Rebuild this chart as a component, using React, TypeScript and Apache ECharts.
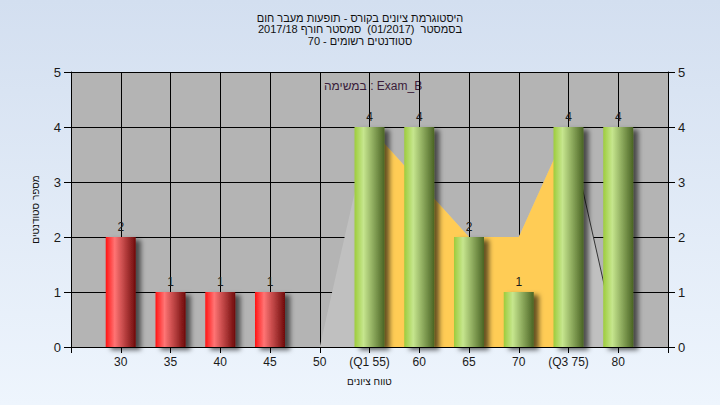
import React, { useEffect, useRef } from "react";
import * as echarts from "echarts";

const titleLines = [
  "היסטוגרמת ציונים בקורס - תופעות מעבר חום",
  "בסמסטר  (01/2017)  סמסטר חורף 2017/18",
  "סטודנטים רשומים - 70",
];
const yAxisName = "מספר סטודנטים";
const xAxisName = "טווח ציונים";
const noteText = "במשימה : Exam_B";

// grade ticks and their labels
const tickGrades = [30, 35, 40, 45, 50, 55, 60, 65, 70, 75, 80];
const tickLabels = ["30", "35", "40", "45", "50", "(Q1 55)", "60", "65", "70", "(Q3 75)", "80"];

// failing grades (red)
const failGrades = [30, 35, 40, 45];
const failCounts = [2, 1, 1, 1];

// passing grades (green)
const passGrades = [55, 60, 65, 70, 75, 80];
const passCounts = [4, 4, 2, 1, 4, 4];

// background distribution shape
const shapeGrades = [50, 55, 60, 65, 70, 75, 80];
const shapeValues = [0, 4, 3, 2, 2, 4, 0];
// inter-quartile part (yellow)
const iqrGrades = [55, 60, 65, 70, 75];
const iqrValues = [4, 3, 2, 2, 4];
// falling edge line
const edgeGrades = [75, 80];
const edgeValues = [4, 0];

const FONT = "Liberation Sans";

function pairs(xs: number[], ys: number[]) {
  return xs.map((x, i) => [x, ys[i]]);
}

export default function App() {
  const ref = useRef<HTMLDivElement>(null);
  useEffect(() => {
    if (!ref.current) return;
    const chart = echarts.init(ref.current, undefined, { renderer: "svg" });
    const barGrad = (c0: string, c1: string, c2: string) =>
      new echarts.graphic.LinearGradient(0, 0, 1, 0, [
        { offset: 0, color: c0 },
        { offset: 0.3, color: c1 },
        { offset: 1, color: c2 },
      ]);
    const barShadow = {
      shadowColor: "rgba(0,0,0,0.6)",
      shadowBlur: 5,
      shadowOffsetX: 5,
      shadowOffsetY: 3,
    };
    const labelCfg = {
      show: true,
      position: "top",
      distance: 4,
      color: "#1a1a1a",
      fontSize: 12,
      fontFamily: FONT,
    };
    const nameStyle = { fontSize: 10, color: "#111", fontFamily: FONT };
    chart.setOption({
      animation: false,
      backgroundColor: new echarts.graphic.LinearGradient(0, 0, 0, 1, [
        { offset: 0, color: "#d3dff0" },
        { offset: 1, color: "#eef5fd" },
      ]),
      title: {
        text: titleLines.join("\n"),
        left: "center",
        top: 7,
        textStyle: {
          fontSize: 11,
          fontWeight: "normal",
          color: "#111",
          fontFamily: FONT,
          lineHeight: 11.5,
        },
      },
      grid: {
        left: 71,
        top: 72,
        width: 597,
        height: 275,
        show: true,
        backgroundColor: "#b4b4b4",
        borderWidth: 0,
      },
      graphic: [
        {
          type: "text",
          left: 324,
          top: 80,
          silent: true,
          style: {
            text: noteText,
            fill: "#3a1c3a",
            fontSize: 12,
            fontFamily: FONT,
          },
        },
      ],
      xAxis: {
        type: "value",
        min: 25,
        max: 85,
        interval: 5,
        name: xAxisName,
        nameLocation: "middle",
        nameGap: 29,
        nameTextStyle: nameStyle,
        axisLine: { show: true, lineStyle: { color: "#000", width: 1 } },
        axisTick: { show: true, length: 6, lineStyle: { color: "#000" } },
        axisLabel: {
          color: "#1a1a1a",
          fontSize: 12,
          fontFamily: FONT,
          margin: 9,
          formatter: (v: number) => {
            const i = tickGrades.indexOf(v);
            return i >= 0 ? tickLabels[i] : "";
          },
        },
        splitLine: { show: true, lineStyle: { color: "#000", width: 1 } },
      },
      yAxis: [
        {
          type: "value",
          min: 0,
          max: 5,
          interval: 1,
          position: "left",
          name: yAxisName,
          nameLocation: "middle",
          nameGap: 31,
          nameTextStyle: nameStyle,
          axisLine: { show: true, lineStyle: { color: "#000", width: 1 } },
          axisTick: { show: true, length: 7, lineStyle: { color: "#000" } },
          axisLabel: { color: "#1a1a1a", fontSize: 13, fontFamily: FONT, margin: 10 },
          splitLine: { show: true, lineStyle: { color: "#000", width: 1 } },
        },
        {
          type: "value",
          min: 0,
          max: 5,
          interval: 1,
          position: "right",
          axisLine: { show: true, lineStyle: { color: "#000", width: 1 } },
          axisTick: { show: true, length: 7, lineStyle: { color: "#000" } },
          axisLabel: { color: "#1a1a1a", fontSize: 13, fontFamily: FONT, margin: 10 },
          splitLine: { show: false },
        },
      ],
      series: [
        {
          type: "line",
          data: pairs(shapeGrades, shapeValues),
          symbol: "none",
          lineStyle: { width: 0 },
          areaStyle: { color: "#c0c0c0", opacity: 1 },
          z: 1,
          silent: true,
        },
        {
          type: "line",
          data: pairs(iqrGrades, iqrValues),
          symbol: "none",
          lineStyle: { width: 0 },
          areaStyle: { color: "#ffcc55", opacity: 1 },
          z: 1,
          silent: true,
        },
        {
          type: "line",
          data: pairs(edgeGrades, edgeValues),
          symbol: "none",
          lineStyle: { width: 1, color: "#333" },
          z: 1,
          silent: true,
        },
        {
          type: "bar",
          data: pairs(failGrades, failCounts),
          barWidth: 30,
          barGap: "-100%",
          itemStyle: { color: barGrad("#ff1414", "#ff7474", "#6e0a0a"), ...barShadow },
          label: labelCfg,
          z: 3,
        },
        {
          type: "bar",
          data: pairs(passGrades, passCounts),
          barWidth: 30,
          barGap: "-100%",
          itemStyle: { color: barGrad("#9dcc3c", "#c6e68e", "#4a6424"), ...barShadow },
          label: labelCfg,
          z: 3,
        },
      ],
    });
    return () => chart.dispose();
  }, []);
  return (
    <div
      ref={ref}
      style={{ position: "absolute", left: 0, top: 0, width: 720, height: 405 }}
    />
  );
}
